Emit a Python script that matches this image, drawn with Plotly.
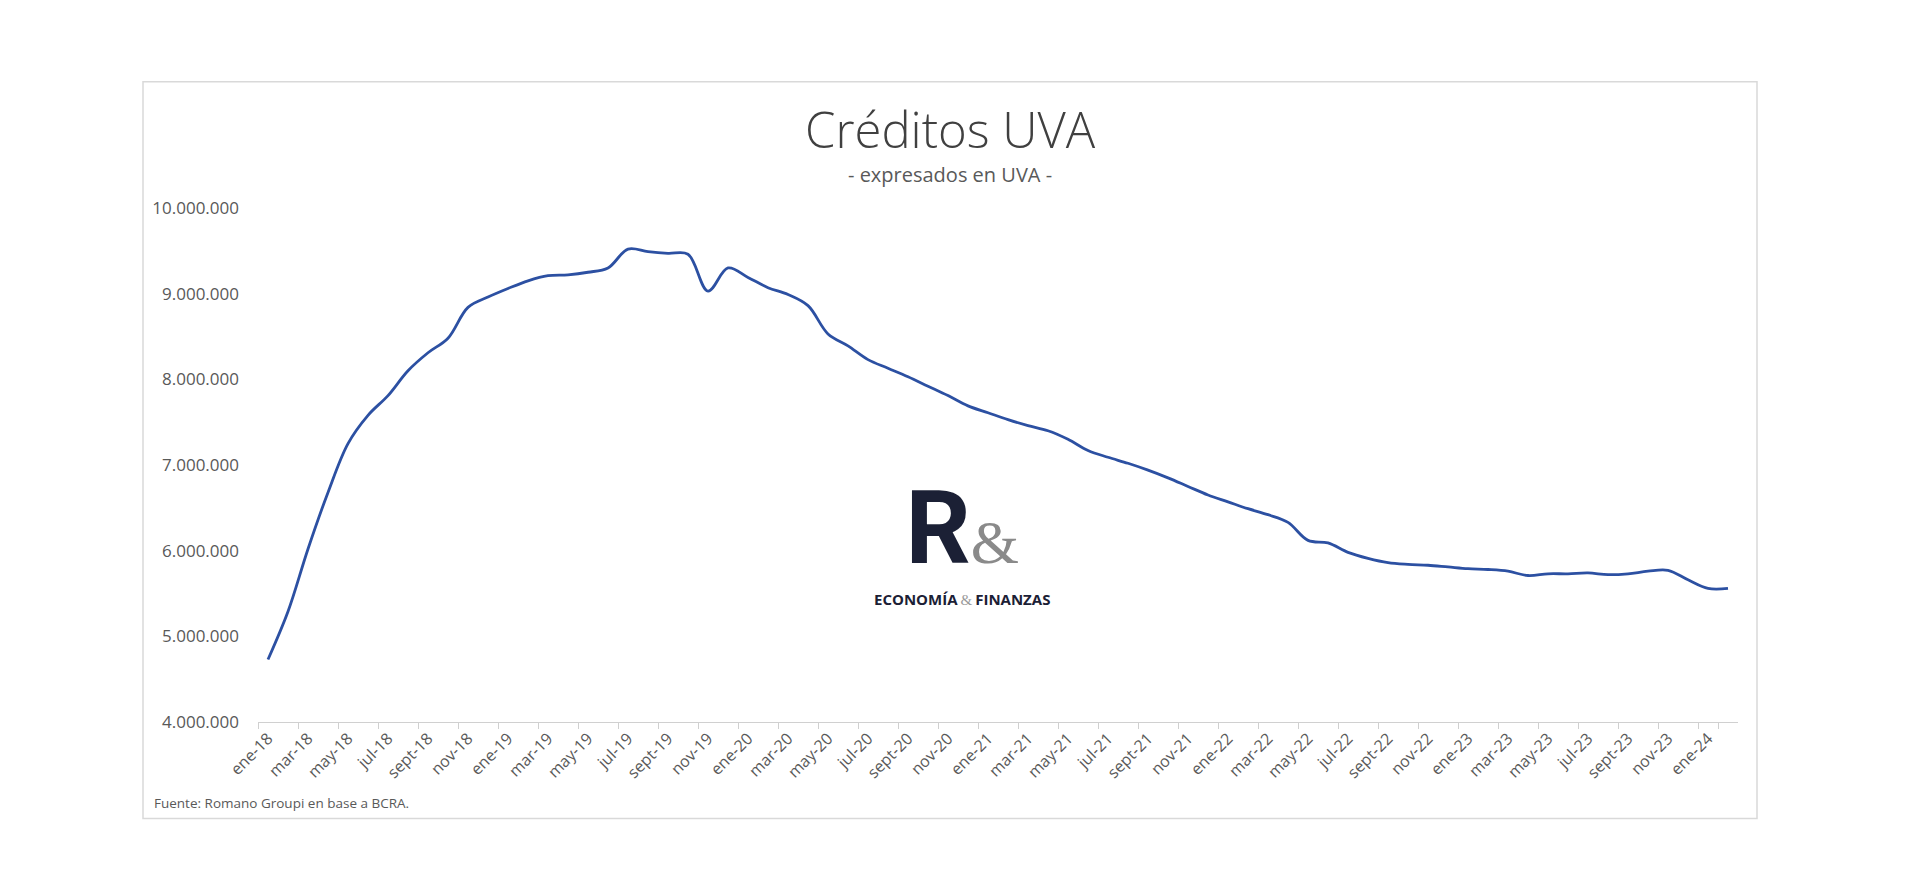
import plotly.graph_objects as go

months = [
    "ene-18", "feb-18", "mar-18", "abr-18", "may-18", "jun-18", "jul-18", "ago-18", "sept-18", "oct-18", "nov-18", "dic-18",
    "ene-19", "feb-19", "mar-19", "abr-19", "may-19", "jun-19", "jul-19", "ago-19", "sept-19", "oct-19", "nov-19", "dic-19",
    "ene-20", "feb-20", "mar-20", "abr-20", "may-20", "jun-20", "jul-20", "ago-20", "sept-20", "oct-20", "nov-20", "dic-20",
    "ene-21", "feb-21", "mar-21", "abr-21", "may-21", "jun-21", "jul-21", "ago-21", "sept-21", "oct-21", "nov-21", "dic-21",
    "ene-22", "feb-22", "mar-22", "abr-22", "may-22", "jun-22", "jul-22", "ago-22", "sept-22", "oct-22", "nov-22", "dic-22",
    "ene-23", "feb-23", "mar-23", "abr-23", "may-23", "jun-23", "jul-23", "ago-23", "sept-23", "oct-23", "nov-23", "dic-23",
    "ene-24", "feb-24",
]

creditos_uva = [
    4730000, 5290000, 6020000, 6680000, 7250000, 7580000, 7810000, 8100000, 8310000, 8480000, 8840000, 8960000,
    9060000, 9150000, 9210000, 9220000, 9250000, 9300000, 9520000, 9490000, 9470000, 9460000, 9030000, 9300000,
    9190000, 9070000, 8990000, 8860000, 8530000, 8390000, 8230000, 8130000, 8030000, 7920000, 7810000, 7690000,
    7610000, 7530000, 7460000, 7400000, 7300000, 7170000, 7090000, 7020000, 6940000, 6850000, 6750000, 6650000,
    6570000, 6490000, 6420000, 6330000, 6120000, 6090000, 5980000, 5910000, 5860000, 5840000, 5830000, 5810000,
    5790000, 5780000, 5760000, 5710000, 5730000, 5730000, 5740000, 5720000, 5730000, 5760000, 5770000, 5660000,
    5560000, 5560000,
]

tick_labels = months[::2]
y_ticks = [4000000, 5000000, 6000000, 7000000, 8000000, 9000000, 10000000]

title_text = "Créditos UVA"
subtitle_text = "- expresados en UVA -"
source_text = "Fuente: Romano Groupi en base a BCRA."
logo_text = (
    "<span style='font-family:Roboto, sans-serif;font-size:102px;color:#1B2035'><b>R</b></span>"
    "<span style='font-family:Liberation Serif, serif;font-size:62px;color:#8A8A8A'>&amp;</span>"
    "<br>"
    "<span style='font-size:15px;color:#1B2035'><b>ECONOMÍA</b>"
    "<span style='color:#9A9A9A;font-family:Liberation Serif, serif'>\u2009&amp;\u2009</span>"
    "<b>FINANZAS</b></span>"
)

# page has an 8px body margin; figure is sized so the page is exactly 1920x880
OFF = 8
W, H = 1920 - 2 * OFF, 880 - 2 * OFF
# plot area in page pixels
L, R, T, B = 258, 1738, 208.3, 722.5


def px(x):
    return (x - L) / (R - L)


def py(y):
    return (B - y) / (B - T)


fig = go.Figure()
fig.add_trace(go.Scatter(
    x=months, y=creditos_uva, mode="lines",
    line=dict(color="#2C50A2", width=2.8, shape="spline", smoothing=1.0),
    showlegend=False, hoverinfo="x+y",
))

gray = "#595959"
fig.update_layout(
    width=W, height=H,
    margin=dict(l=L - OFF, r=(1920 - OFF) - R, t=T - OFF, b=(880 - OFF) - B, autoexpand=False),
    paper_bgcolor="white", plot_bgcolor="white",
    separators=",.",
    font=dict(family="Open Sans, sans-serif", color=gray),
    xaxis=dict(
        type="category", range=[-0.5, len(months) - 0.5],
        tickmode="array", tickvals=tick_labels, ticktext=tick_labels,
        tickson="boundaries", ticks="outside", ticklen=6, tickcolor="#D0D0D0",
        showline=True, linecolor="#D0D0D0", linewidth=1,
        showgrid=False, tickangle=-45,
        tickfont=dict(size=16, color=gray, family="Open Sans, sans-serif"),
        fixedrange=True,
    ),
    yaxis=dict(
        range=[4000000, 10000000], tickmode="array", tickvals=y_ticks,
        tickformat=",d", showgrid=False, zeroline=False, showline=False,
        ticks="", ticklabelstandoff=18,
        tickfont=dict(size=17, color=gray, family="Open Sans, sans-serif"),
        fixedrange=True,
    ),
    shapes=[dict(
        type="rect", xref="paper", yref="paper",
        x0=px(143), x1=px(1757), y0=py(819), y1=py(82),
        line=dict(color="#D9D9D9", width=1.5), fillcolor="rgba(0,0,0,0)", layer="below",
    )],
    annotations=[
        dict(text=title_text, x=px(950), y=py(129), xref="paper", yref="paper",
             xanchor="center", yanchor="middle", showarrow=False,
             font=dict(size=49, color="#404040", family="Open Sans, sans-serif", weight=300)),
        dict(text=subtitle_text, x=px(950), y=py(175), xref="paper", yref="paper",
             xanchor="center", yanchor="middle", showarrow=False,
             font=dict(size=20, color=gray, family="Open Sans, sans-serif")),
        dict(text=source_text, x=px(152), y=py(804), xref="paper", yref="paper",
             xanchor="left", yanchor="middle", showarrow=False,
             font=dict(size=13.5, color=gray, family="Open Sans, sans-serif")),
        dict(text=logo_text, x=px(962), y=py(466), xref="paper", yref="paper",
             xanchor="center", yanchor="top", align="center", showarrow=False,
             font=dict(size=32.5, color="#1B2035", family="Open Sans, sans-serif")),
    ],
)

fig.write_html("out.html")
